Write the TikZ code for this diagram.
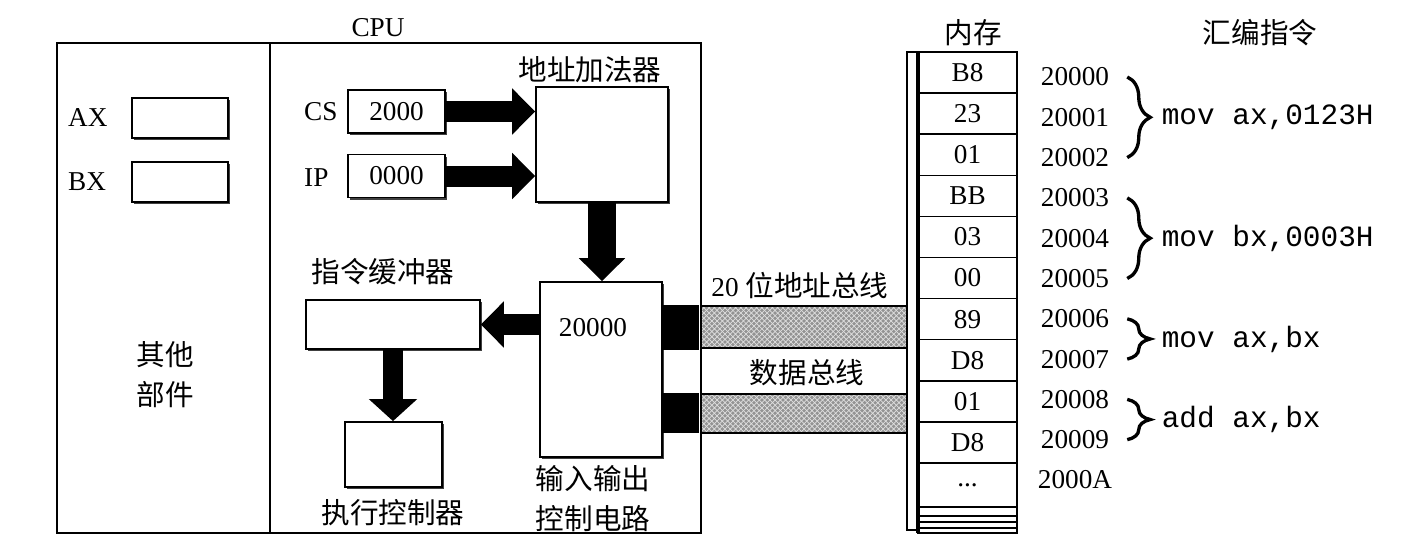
\documentclass[tikz,border=0pt]{standalone}
\usepackage{fontspec}
\setmainfont{Liberation Serif}
\setmonofont{Liberation Mono}[Scale=1.08]
\newfontfamily\cjk[Scale=1.05]{Noto Sans CJK SC}
\usetikzlibrary{arrows.meta,positioning,shadows,patterns,decorations.pathreplacing}

\begin{document}
\begin{tikzpicture}[x=0.2mm,y=-0.2mm,font=\fontsize{15.5}{18}\selectfont,
  box/.style={draw,line width=1pt,fill=white,inner sep=0pt,
    drop shadow={shadow xshift=.45mm,shadow yshift=-.45mm,opacity=1,fill=black!75}},
  frame/.style={line width=1.1pt},
  fat/.style={line width=4.2mm,-{Triangle[width=9mm,length=4.6mm]}},
  cell/.style={draw,line width=.9pt,minimum width=19.8mm,minimum height=8.22mm,inner sep=0pt},
  bus/.style={draw,line width=.9pt,preaction={fill=gray!85},pattern=crosshatch,pattern color=gray!25},
  brc/.style={decorate,decoration={brace,amplitude=4.6mm},line width=1.9pt},
  zh/.style={font=\cjk\fontsize{15.5}{22.8}\selectfont,align=center},
  tt/.style={font=\ttfamily\fontsize{15.5}{18}\selectfont}]
\useasboundingbox (0,0) rectangle (1420,553);

% CPU frame
\node (cputitle) at (378,28) {CPU};
\draw[frame] (57,43) rectangle (701,533);
\draw[frame] (270,43) -- (270,533);

% other parts
\node[box,minimum width=19.2mm,minimum height=8mm] (ax) at (180,118) {};
\node[box,minimum width=19.2mm,minimum height=8mm] (bx) at (180,182) {};
\node[anchor=west] (axl) at (62,118) {AX};
\node[anchor=west] (bxl) at (62,182) {BX};
\node[zh] (other) at (165,375) {其他\\部件};

% segment and offset registers
\node[box,minimum width=19.4mm,minimum height=8.6mm] (cs) at (396.5,111.5) {2000};
\node[box,minimum width=19.4mm,minimum height=8.6mm] (ip) at (396.5,176) {0000};
\node[anchor=west] (csl) at (298,112) {CS};
\node[anchor=west] (ipl) at (298,178) {IP};

\node[box,minimum width=26.4mm,minimum height=23mm] (adder) at (602,144.5) {};
\node[zh] (adderl) at (590,70) {地址加法器};
\node[box,minimum width=24.4mm,minimum height=35mm] (io) at (601,369.5) {};
\node (addr) at (593,328) {20000};
\node[zh] (iol) at (593,499) {输入输出\\控制电路};
\node[box,minimum width=34.8mm,minimum height=9.8mm] (buf) at (393,324.5) {};
\node[zh] (bufl) at (383,272) {指令缓冲器};
\node[box,minimum width=19.4mm,minimum height=13mm] (exec) at (393.5,454.5) {};
\node[zh] (execl) at (393,513) {执行控制器};

\draw[fat] (cs.east) -- (cs.east -| adder.west);
\draw[fat] (ip.east) -- (ip.east -| adder.west);
\draw[fat,line width=5.6mm] (adder.south) -- (adder.south |- io.north);
\draw[fat] (io.west |- buf.east) -- (buf.east);
\draw[fat,line width=4mm,-{Triangle[width=9.4mm,length=4.4mm]}] (buf.south) -- (buf.south |- exec.north);

% buses
\fill (662,305) rectangle (699,350);
\fill (662,393) rectangle (699,433);
\draw[bus] (701,306) rectangle (907,348);
\draw[bus] (701,394) rectangle (907,433);
\node[zh] (abus) at (800,285) {\rmfamily 20 \cjk 位地址总线};
\node[zh] (dbus) at (807,373) {数据总线};

% memory
\node[zh] (memtitle) at (973,33) {内存};
\draw[line width=.9pt] (907,52) rectangle (918,530);
\foreach \v [count=\i from 0] in {B8,23,01,BB,03,00,89,D8,01,D8}
  \node[cell] (m\i) at (967.5,{72.55+41.1*\i}) {\v};
\node[cell,minimum height=8.8mm] (m10) at (967.5,485) {...};
\draw[line width=.9pt] (918,507) rectangle (1017,533);
\foreach \y in {516,522,528}
  \draw[line width=.9pt] (918,\y) -- (1017,\y);
\draw[line width=1.8pt] (918,52) -- (918,533);

% addresses and instructions
\node[zh] (asmtitle) at (1260,33) {汇编指令};
\foreach \a [count=\i from 0] in {20000,20001,20002,20003,20004,20005,20006,20007,20008,20009,2000A}
  \node (a\i) at (1075,{77+40.3*\i}) {\a};
\draw[brc] ([xshift=2.4mm]a0.east) -- node[tt,right=5.4mm] {mov ax,0123H} ([xshift=2.4mm]a2.east);
\draw[brc] ([xshift=2.4mm]a3.east) -- node[tt,right=5.4mm] {mov bx,0003H} ([xshift=2.4mm]a5.east);
\draw[brc] ([xshift=2.4mm]a6.east) -- node[tt,right=5.4mm] {mov ax,bx} ([xshift=2.4mm]a7.east);
\draw[brc] ([xshift=2.4mm]a8.east) -- node[tt,right=5.4mm] {add ax,bx} ([xshift=2.4mm]a9.east);
\end{tikzpicture}
\end{document}
